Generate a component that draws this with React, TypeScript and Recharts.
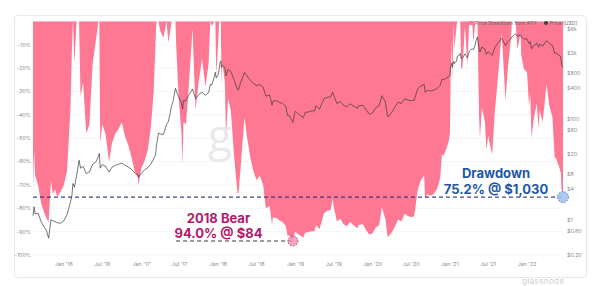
import React from 'react';
import {
  ComposedChart,
  Area,
  Line,
  XAxis,
  YAxis,
  CartesianGrid,
  ReferenceLine,
  ReferenceDot,
} from 'recharts';

// sample dates (one line per year)
const dates = [
  '2015-08-08', '2015-08-13', '2015-08-18', '2015-09-01', '2015-09-16', '2015-10-01', '2015-10-10', '2015-10-21', '2015-11-01', '2015-11-10', '2015-11-20', '2015-12-01', '2015-12-16',
  '2016-01-01', '2016-01-16', '2016-02-01', '2016-02-08', '2016-02-13', '2016-02-20', '2016-03-01', '2016-03-08', '2016-03-13', '2016-03-20', '2016-04-01', '2016-04-16', '2016-05-01', '2016-05-16', '2016-06-01', '2016-06-12', '2016-06-17', '2016-06-21', '2016-07-01', '2016-07-16', '2016-08-02', '2016-08-16', '2016-09-01', '2016-09-16', '2016-10-01', '2016-10-16', '2016-11-01', '2016-11-16', '2016-12-01', '2016-12-16', '2016-12-20',
  '2017-01-01', '2017-01-16', '2017-02-01', '2017-02-16', '2017-03-01', '2017-03-10', '2017-03-14', '2017-03-20', '2017-03-24', '2017-04-01', '2017-04-16', '2017-05-01', '2017-05-10', '2017-05-25', '2017-06-01', '2017-06-12', '2017-06-16', '2017-06-27', '2017-07-10', '2017-07-16', '2017-07-20', '2017-08-01', '2017-08-16', '2017-09-01', '2017-09-15', '2017-10-01', '2017-10-16', '2017-11-01', '2017-11-16', '2017-11-24', '2017-12-01', '2017-12-12', '2017-12-18', '2017-12-22',
  '2018-01-01', '2018-01-05', '2018-01-09', '2018-01-13', '2018-01-16', '2018-01-20', '2018-02-01', '2018-02-06', '2018-02-16', '2018-03-01', '2018-03-16', '2018-04-01', '2018-04-06', '2018-04-16', '2018-05-05', '2018-05-16', '2018-06-01', '2018-06-16', '2018-07-01', '2018-07-16', '2018-08-01', '2018-08-14', '2018-09-01', '2018-09-12', '2018-09-16', '2018-10-01', '2018-10-16', '2018-11-01', '2018-11-16', '2018-11-25', '2018-12-01', '2018-12-20', '2018-12-28',
  '2019-01-01', '2019-01-16', '2019-02-07', '2019-02-16', '2019-03-01', '2019-03-16', '2019-04-01', '2019-04-08', '2019-04-25', '2019-05-16', '2019-06-01', '2019-06-16', '2019-06-26', '2019-07-01', '2019-07-16', '2019-08-01', '2019-08-16', '2019-09-01', '2019-09-16', '2019-10-01', '2019-10-22', '2019-10-26', '2019-11-16', '2019-12-01', '2019-12-17',
  '2020-01-01', '2020-01-16', '2020-02-01', '2020-02-14', '2020-03-01', '2020-03-12', '2020-03-16', '2020-04-01', '2020-04-16', '2020-05-01', '2020-05-16', '2020-06-01', '2020-06-16', '2020-07-01', '2020-07-16', '2020-08-01', '2020-08-14', '2020-09-01', '2020-09-05', '2020-09-16', '2020-10-01', '2020-10-16', '2020-11-01', '2020-11-16', '2020-11-24', '2020-12-01', '2020-12-16', '2020-12-27',
  '2021-01-01', '2021-01-04', '2021-01-10', '2021-01-12', '2021-01-19', '2021-01-22', '2021-02-01', '2021-02-05', '2021-02-10', '2021-02-19', '2021-02-23', '2021-03-01', '2021-03-13', '2021-03-25', '2021-04-02', '2021-04-16', '2021-04-22', '2021-05-01', '2021-05-05', '2021-05-11', '2021-05-19', '2021-05-23', '2021-06-01', '2021-06-16', '2021-06-22', '2021-07-01', '2021-07-20', '2021-08-01', '2021-08-16', '2021-09-03', '2021-09-21', '2021-10-01', '2021-10-16', '2021-10-21', '2021-10-29', '2021-11-08', '2021-11-16', '2021-12-01', '2021-12-04', '2021-12-16',
  '2022-01-01', '2022-01-10', '2022-01-16', '2022-01-22', '2022-02-01', '2022-02-16', '2022-02-24', '2022-03-01', '2022-03-16', '2022-04-03', '2022-04-16', '2022-05-01', '2022-05-12', '2022-05-16', '2022-06-01', '2022-06-10', '2022-06-13', '2022-06-20',
];

// price in USD
const priceUsd = [
  1.2, 1.8, 1.3, 1.35, 0.9, 0.7, 0.62, 0.43, 1.0, 0.95, 0.92, 0.87, 0.85,
  0.95, 1.25, 2.2, 3.0, 5.2, 4.4, 7.4, 11, 15, 10.5, 11.4, 8.2, 8.8, 12.5, 14, 17.5, 20.6, 10.5, 12.3, 11.5, 8.8, 11, 12, 12.5, 13.2, 12, 11, 10, 8.4, 7.8, 7.0,
  8.2, 9.6, 10.7, 12.7, 16.1, 19.2, 28.5, 42, 52, 50, 48.5, 77, 88, 180, 220, 400, 355, 270, 210, 155, 227, 225, 300, 388, 250, 302, 335, 290, 330, 475, 465, 650, 830, 640,
  760, 975, 1290, 1396, 1020, 1150, 1030, 700, 940, 860, 600, 380, 370, 510, 820, 710, 580, 500, 450, 475, 420, 280, 295, 185, 220, 230, 210, 200, 175, 115, 118, 84, 130,
  140, 123, 105, 133, 135, 142, 142, 180, 155, 250, 265, 270, 335, 290, 200, 218, 185, 172, 197, 180, 160, 180, 184, 150, 122,
  130, 165, 180, 285, 218, 111, 110, 135, 172, 212, 200, 247, 233, 227, 232, 385, 440, 478, 335, 365, 355, 365, 395, 460, 605, 590, 640, 685,
  730, 1040, 1280, 1040, 1380, 1230, 1370, 1720, 1740, 1960, 1570, 1570, 1920, 1590, 2140, 2430, 2300, 2950, 3500, 4170, 2450, 2100, 2630, 2370, 1880, 2110, 1790, 2550, 3150, 3950, 2770, 3310, 3830, 4170, 4420, 4810, 4230, 4590, 4150, 3850,
  3760, 3080, 3330, 2420, 2790, 3130, 2600, 2970, 2760, 3520, 3060, 2830, 1960, 2020, 1820, 1660, 1200, 1030,
];

// drawdown from ATH, %
const drawdownPct = [
  -73, -55, -66, -70, -78, -82, -84, -86, -68, -74, -72, -75, -73,
  -70, -64, -38, -12, 0, -18, 0, 0, 0, -32, -26, -48, -44, -18, -8, 0, 0, -52, -44, -48, -60, -52, -48, -46, -43, -49, -53, -58, -64, -67, -70,
  -63, -60, -55, -45, -30, -8, 0, 0, 0, -4, -7, 0, -9, 0, 0, 0, -11, -32, -47, -61, -43, -44, -25, -3, -38, -25, -16, -28, -18, 0, -2, 0, 0, -23,
  -8, 0, 0, 0, -27, -18, -26, -50, -33, -38, -57, -73, -74, -63, -41, -49, -58, -64, -68, -66, -70, -80, -79, -87, -84, -84, -85, -86, -87.5, -92, -91.5, -94, -90.7,
  -90, -91.2, -92.5, -90.5, -90.3, -89.8, -89.8, -87.1, -88.9, -82.1, -81, -80.7, -76, -79.2, -85.7, -84.4, -86.8, -87.7, -85.9, -87.1, -88.5, -87.1, -86.8, -89.3, -91.3,
  -90.7, -88.2, -87.1, -79.6, -84.4, -92.1, -92.1, -90.3, -87.7, -84.8, -85.7, -82.3, -83.3, -83.7, -83.4, -72.4, -68.5, -65.8, -76, -73.9, -74.6, -73.9, -71.7, -67, -56.7, -57.7, -54.2, -51,
  -47.7, -25.5, -8.3, -25.5, -1, -12, -2, 0, 0, 0, -20, -20, -2, -19, 0, 0, -9, 0, 0, 0, -41, -50, -37, -43, -55, -49, -57, -39, -24, -5, -34, -21, -8, 0, 0, 0, -12, -5, -14, -20,
  -22, -36, -31, -50, -42, -35, -46, -38, -43, -27, -36, -41, -59, -58, -62, -65, -72, -75.2,
];

const xTickDates = [
  '2016-01-01', '2016-07-01', '2017-01-01', '2017-07-01', '2018-01-01', '2018-07-01', '2019-01-01',
  '2019-07-01', '2020-01-01', '2020-07-01', '2021-01-01', '2021-07-01', '2022-01-01',
];
const xTickLabels = [
  "Jan '16", "Jul '16", "Jan '17", "Jul '17", "Jan '18", "Jul '18", "Jan '19",
  "Jul '19", "Jan '20", "Jul '20", "Jan '21", "Jul '21", "Jan '22",
];

const ddTicks = [-10, -20, -30, -40, -50, -60, -70, -80, -90, -100];
const priceTicks = [0.2, 0.6, 1, 4, 8, 20, 60, 100, 400, 800, 2000, 6000];
const priceTickLabels = ['$0.20', '$0.60', '$1', '$4', '$8', '$20', '$60', '$100', '$400', '$800', '$2k', '$6k'];

const xDomain = ['2015-08-08', '2022-06-20'];
const bearPoint = { date: '2018-12-20', dd: -94.0, lineFrom: '2017-06-15' };
const nowPoint = { date: '2022-06-20', dd: -75.2 };

const PINK = '#fe7893';
const FONT = 'Inter, "Open Sans", sans-serif';

const data = dates.map((d, i) => ({ t: Date.parse(d), dd: drawdownPct[i], price: priceUsd[i] }));
const xTicks = xTickDates.map((d) => Date.parse(d));

const fmtX = (v: number) => {
  const i = xTicks.indexOf(v);
  return i >= 0 ? xTickLabels[i] : '';
};
const fmtPrice = (v: number) => {
  const i = priceTicks.indexOf(v);
  return i >= 0 ? priceTickLabels[i] : '';
};

const tickStyle = { fontSize: 5.3, fill: '#8a8a8a', fontFamily: FONT };

export default function App() {
  return (
    <div
      style={{
        position: 'absolute',
        left: 0,
        top: 0,
        width: 600,
        height: 286,
        overflow: 'hidden',
        background: '#fff',
        fontFamily: FONT,
      }}
    >
      <div
        style={{
          position: 'absolute',
          left: 14,
          top: 15,
          width: 573,
          height: 263,
          border: '1px solid #e9e9e9',
          borderRadius: 4,
          boxSizing: 'border-box',
        }}
      />
      <div style={{ position: 'absolute', left: 0, top: 0 }}>
        <ComposedChart
          width={600}
          height={286}
          data={data}
          margin={{ top: 21.5, right: 0, bottom: 0, left: 0 }}
        >
          <CartesianGrid yAxisId="dd" vertical={false} stroke="#eeeeee" strokeWidth={0.6} />
          <XAxis
            dataKey="t"
            type="number"
            domain={xDomain.map((d) => Date.parse(d))}
            ticks={xTicks}
            interval={0}
            tickFormatter={fmtX}
            axisLine={false}
            tickLine={false}
            tickSize={0}
            tickMargin={7}
            height={31}
            tick={tickStyle}
          />
          <YAxis
            yAxisId="dd"
            domain={[-100, 0]}
            ticks={ddTicks}
            interval={0}
            tickFormatter={(v: number) => `${v}%`}
            axisLine={false}
            tickLine={false}
            tickSize={0}
            tickMargin={2}
            width={33}
            tick={tickStyle}
          />
          <YAxis
            yAxisId="price"
            orientation="right"
            type="number"
            scale="log"
            domain={[0.2, 8400]}
            allowDataOverflow
            ticks={priceTicks}
            interval={0}
            tickFormatter={fmtPrice}
            axisLine={false}
            tickLine={false}
            tickSize={0}
            tickMargin={4}
            width={37}
            tick={tickStyle}
          />
          <Area
            yAxisId="dd"
            dataKey="dd"
            type="linear"
            baseValue={0}
            fill={PINK}
            fillOpacity={1}
            stroke="none"
            isAnimationActive={false}
          />
          <Line
            yAxisId="price"
            dataKey="price"
            type="linear"
            stroke="#3c3c3c"
            strokeWidth={0.7}
            dot={false}
            isAnimationActive={false}
          />
          <ReferenceLine
            yAxisId="dd"
            segment={[
              { x: Date.parse(xDomain[0]), y: nowPoint.dd },
              { x: Date.parse(nowPoint.date), y: nowPoint.dd },
            ]}
            stroke="#1f2c6c"
            strokeOpacity={0.85}
            strokeWidth={1.2}
            strokeDasharray="4 3"
          />
          <ReferenceLine
            yAxisId="dd"
            segment={[
              { x: Date.parse(bearPoint.lineFrom), y: bearPoint.dd },
              { x: Date.parse(bearPoint.date), y: bearPoint.dd },
            ]}
            stroke="#3a3a3a"
            strokeWidth={1.2}
            strokeDasharray="4 3"
          />
          <ReferenceDot
            yAxisId="dd"
            x={Date.parse(bearPoint.date)}
            y={bearPoint.dd}
            r={5}
            fill="#f58fb0"
            fillOpacity={0.8}
            stroke="#6e2a4c"
            strokeWidth={0.8}
            strokeDasharray="1.5 1.5"
          />
          <ReferenceDot
            yAxisId="dd"
            x={Date.parse(nowPoint.date)}
            y={nowPoint.dd}
            r={5.5}
            fill="#a5c2ec"
            fillOpacity={0.9}
            stroke="#2b5fb0"
            strokeWidth={0.8}
            strokeDasharray="1.5 1.5"
          />
        </ComposedChart>
      </div>

      {/* watermark */}
      <div
        style={{
          position: 'absolute',
          left: 208,
          top: 112,
          fontSize: 44,
          fontFamily: '"Open Sans", sans-serif',
          color: 'rgba(228,228,228,0.75)',
          lineHeight: 1,
        }}
      >
        g
      </div>

      {/* legend */}
      <div
        style={{
          position: 'absolute',
          left: 469,
          top: 20,
          display: 'flex',
          alignItems: 'center',
          fontSize: 4.9,
          color: '#666',
          lineHeight: '6px',
          whiteSpace: 'nowrap',
        }}
      >
        <span style={{ width: 4, height: 4, background: PINK, display: 'inline-block', marginRight: 2 }} />
        <span>Price Drawdown from ATH</span>
        <span
          style={{
            width: 3.5,
            height: 3.5,
            borderRadius: '50%',
            background: '#444',
            display: 'inline-block',
            marginLeft: 8,
            marginRight: 2,
          }}
        />
        <span>Price [USD]</span>
      </div>

      {/* annotations */}
      <div
        style={{
          position: 'absolute',
          left: 158.5,
          top: 210.5,
          width: 120,
          textAlign: 'center',
          fontSize: 13,
          fontWeight: 700,
          lineHeight: '15.5px',
          color: '#b3196a',
        }}
      >
        <div>2018 Bear</div>
        <div>94.0% @ $84</div>
      </div>
      <div
        style={{
          position: 'absolute',
          left: 426,
          top: 165.3,
          width: 140,
          textAlign: 'center',
          fontSize: 13,
          fontWeight: 700,
          lineHeight: '16px',
          color: '#1f57a4',
        }}
      >
        <div>Drawdown</div>
        <div>75.2% @ $1,030</div>
      </div>

      <div
        style={{
          position: 'absolute',
          left: 522,
          top: 277,
          fontSize: 8,
          lineHeight: '8px',
          color: '#cfcfcf',
          letterSpacing: 0.4,
        }}
      >
        glassnode
      </div>
    </div>
  );
}
